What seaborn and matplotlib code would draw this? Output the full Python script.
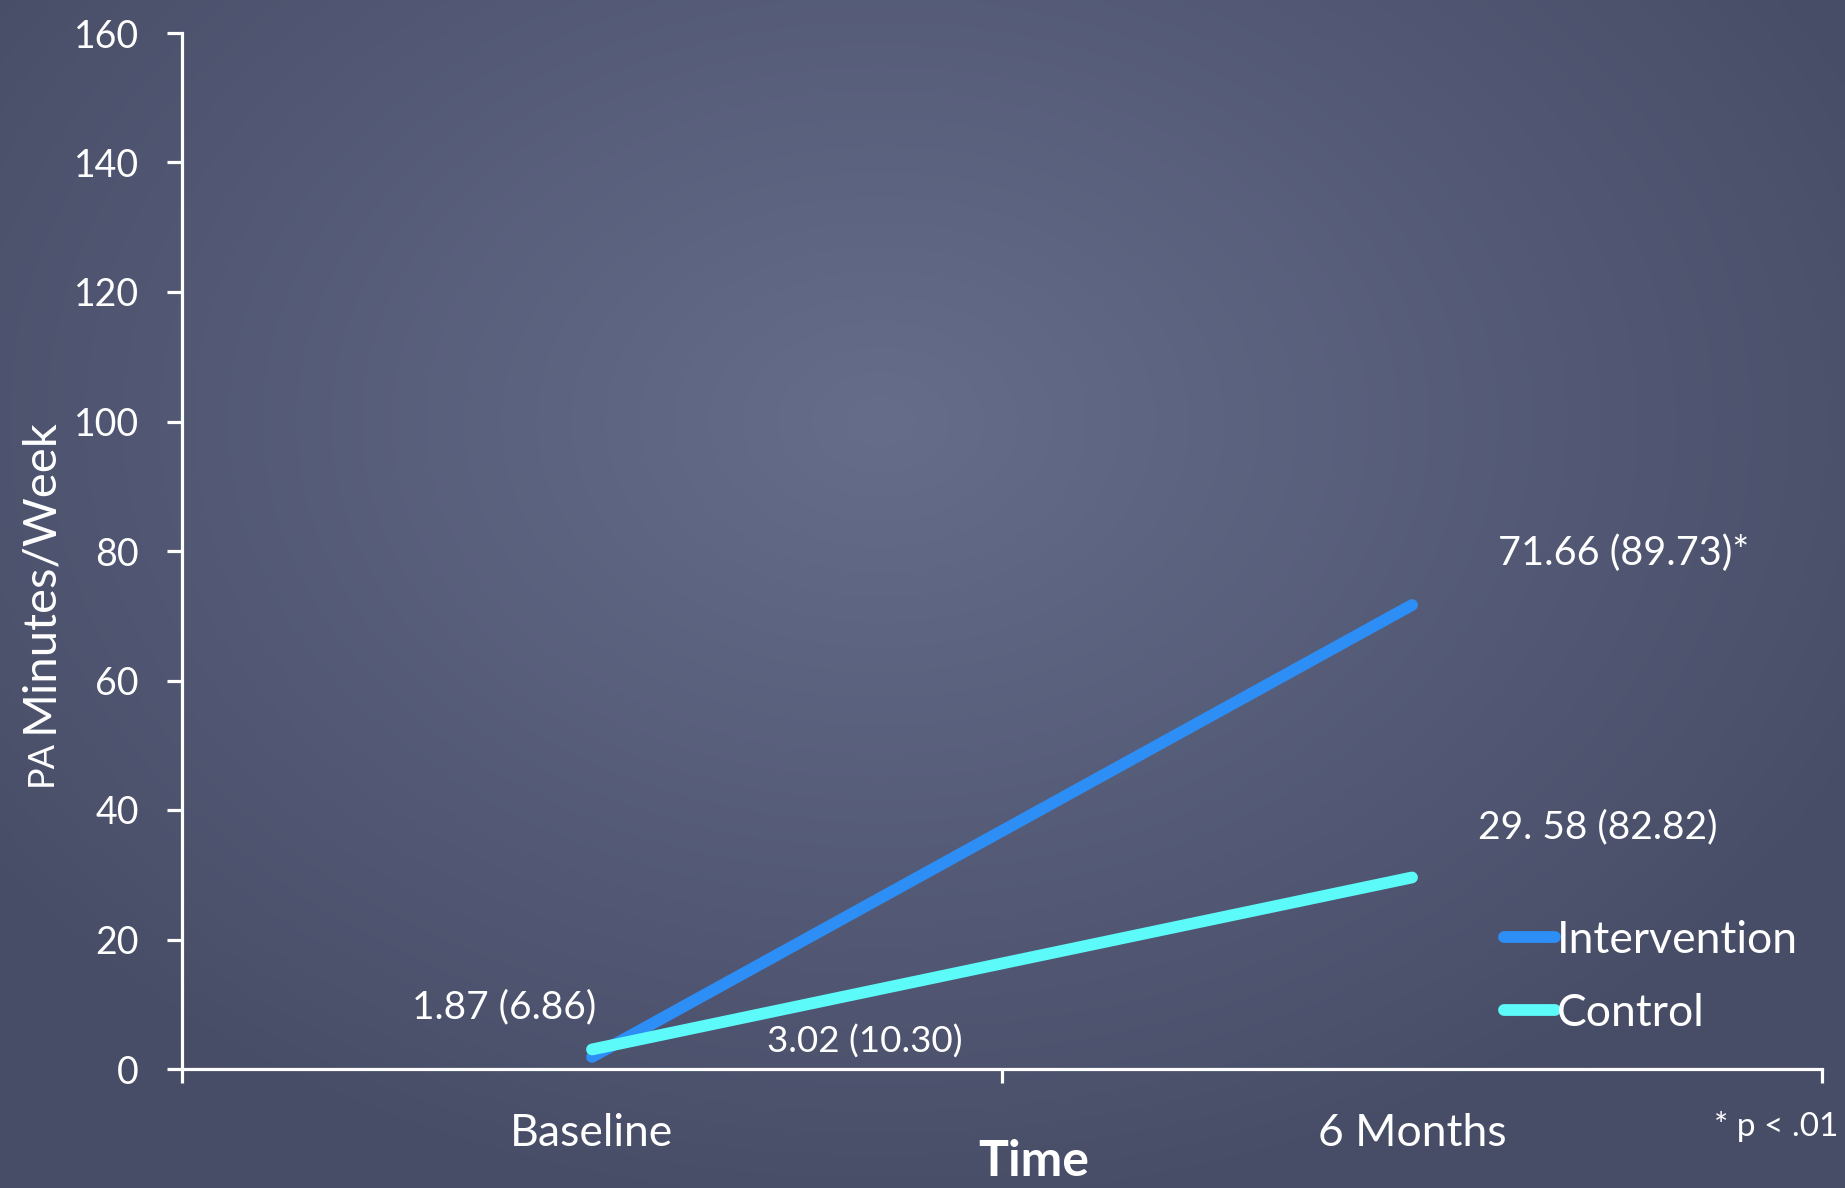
import numpy as np
import pandas as pd
import matplotlib
matplotlib.use("Agg")
import matplotlib.pyplot as plt
import seaborn as sns
from matplotlib.lines import Line2D

# ---- data ----
time_labels = ["Baseline", "6 Months"]
intervention = [1.87, 71.66]
control = [3.02, 29.58]
intervention_text = ["1.87 (6.86)", "71.66 (89.73)*"]
control_text = ["3.02 (10.30)", "29. 58 (82.82)"]
groups = ["Intervention", "Control"]
y_ticks = [0, 20, 40, 60, 80, 100, 120, 140, 160]

W, H = 1845, 1188
sns.set_theme(style="white")
plt.rcParams["font.family"] = ["Lato", "DejaVu Sans"]

fig = plt.figure(figsize=(W / 100, H / 100), dpi=100)

# background gradient
bg = fig.add_axes([0, 0, 1, 1], zorder=-10)
yy, xx = np.mgrid[0:H:4, 0:W:4]
r = np.sqrt(((xx - 880) / 1100) ** 2 + ((yy - 420) / 800) ** 2)
t = np.clip(r, 0, 1)[..., None]
c_center = np.array([0x65, 0x6d, 0x8b]) / 255
c_edge = np.array([0x48, 0x4d, 0x67]) / 255
img = c_center * (1 - t) + c_edge * t
bg.imshow(img, extent=[0, 1, 0, 1], aspect="auto", interpolation="bilinear")
bg.axis("off")

ax = fig.add_axes([182 / W, 1 - 1069 / H, (1822 - 182) / W, (1069 - 33) / H])
ax.patch.set_alpha(0)

df = pd.DataFrame({
    "x": list(range(len(time_labels))) * 2,
    "value": intervention + control,
    "group": [groups[0]] * len(intervention) + [groups[1]] * len(control),
})
palette = {"Intervention": "#2d8ef6", "Control": "#5cfaf8"}
sns.lineplot(data=df, x="x", y="value", hue="group", palette=palette,
             linewidth=8.5, ax=ax, legend=False, solid_capstyle="round")

ax.set_xlim(-0.5, len(time_labels) - 0.5)
ax.set_ylim(0, 160)
ax.set_yticks(y_ticks)
ax.set_yticklabels([str(v) for v in y_ticks])
ax.set_xticks(np.arange(-0.5, len(time_labels)))
ax.set_xticklabels([])
ax.set_xticks(range(len(time_labels)), minor=True)
ax.set_xticklabels(time_labels, minor=True)

for s in ["top", "right"]:
    ax.spines[s].set_visible(False)
for s in ["left", "bottom"]:
    ax.spines[s].set_color("white")
    ax.spines[s].set_linewidth(2.3)
ax.tick_params(axis="y", which="major", direction="out", length=11, width=2.3,
               color="white", labelcolor="white", labelsize=27, pad=20, left=True)
ax.tick_params(axis="x", which="major", direction="out", length=10, width=2.3,
               color="white", bottom=True)
ax.tick_params(axis="x", which="minor", length=0, labelcolor="white",
               labelsize=32, pad=32)
ax.set_xlabel("")
ax.set_ylabel("")

# value annotations
ax.text(-0.107, 9.5, intervention_text[0], color="white", fontsize=28, ha="center", va="center")
ax.text(0.333, 4.3, control_text[0], color="white", fontsize=26.5, ha="center", va="center")
ax.text(1.258, 79.7, intervention_text[1], color="white", fontsize=28.5, ha="center", va="center")
ax.text(1.226, 37.3, control_text[1], color="white", fontsize=28, ha="center", va="center")

# legend
handles = [Line2D([], [], color=palette[g], linewidth=8.5, solid_capstyle="round") for g in groups]
leg = fig.legend(handles, groups, loc="upper left", bbox_to_anchor=(1504 / W, 1 - 920 / H),
                 frameon=False, handlelength=1.15, handletextpad=0.05, labelspacing=0.72,
                 borderpad=0, borderaxespad=0, fontsize=32, labelcolor="white")

# axis titles
fig.text(1034 / W, 1 - 1162 / H, "Time", color="white", fontsize=36, fontweight="bold",
         ha="center", va="center")
fig.text(52 / W, 1 - 786 / H, "PA", color="white", fontsize=26, rotation=90,
         rotation_mode="anchor", ha="left", va="baseline")
fig.text(52 / W, 1 - 733 / H, "Minutes/Week", color="white", fontsize=34, rotation=90,
         rotation_mode="anchor", ha="left", va="baseline")

fig.text(1838 / W, 1 - 1126 / H, "* p < .01", color="white", fontsize=24,
         ha="right", va="center")

fig.savefig("out.png", dpi=100)
